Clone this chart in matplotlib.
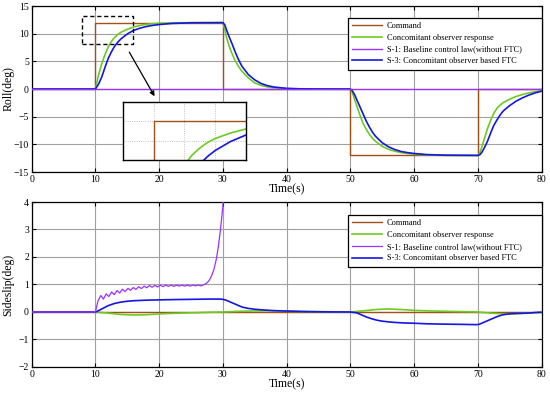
import matplotlib
matplotlib.use('Agg')
import matplotlib.pyplot as plt
from matplotlib.patches import Rectangle

plt.rcParams['font.family'] = ['Liberation Serif', 'DejaVu Serif']
plt.rcParams['axes.unicode_minus'] = True

# ── colours ────────────────────────────────────────────────────────────────
C_CMD = '#a0501a'
C_OBS = '#6ccb1e'
C_S1 = '#9933ff'
C_S3 = '#1515e6'

labels = ['Command', 'Concomitant observer response',
          'S-1: Baseline control law(without FTC)',
          'S-3: Concomitant observer based FTC']

# ── Roll data ──────────────────────────────────────────────────────────────
t_roll_cmd = [0, 10, 10, 30, 30, 50, 50, 70, 70, 80]
roll_cmd = [0, 0, 12, 12, 0, 0, -12, -12, 0, 0]

t_roll = [0, 10, 10.5, 11, 11.5, 12, 12.5, 13, 13.5, 14, 15, 16, 17, 18, 19, 20, 22, 25, 30,
          30.3, 30.6, 31, 31.5, 32, 32.5, 33, 34, 35, 36, 37, 38, 40, 42, 45, 50,
          50.3, 50.7, 51, 51.5, 52, 52.5, 53, 53.5, 54, 55, 56, 57, 58, 59, 60, 62, 65, 70,
          70.3, 70.6, 71, 71.5, 72, 72.5, 73, 73.5, 74, 75, 76, 77, 78, 79, 80]
roll_obs = [0, 0, 2.6, 4.6, 6.2, 7.6, 8.6, 9.3, 9.85, 10.25, 10.8, 11.2, 11.5, 11.68, 11.8, 11.88, 11.95, 11.99, 12,
            10.8, 9.2, 7.7, 6.2, 5.0, 4.0, 3.2, 2.0, 1.1, 0.65, 0.38, 0.22, 0.07, 0.02, 0, 0,
            -0.6, -2.0, -3.0, -4.7, -6.2, -7.3, -8.2, -8.95, -9.5, -10.35, -10.9, -11.25, -11.5, -11.65, -11.78, -11.92, -11.99, -12,
            -11.6, -10.6, -9.1, -7.2, -5.7, -4.4, -3.5, -2.9, -2.45, -1.85, -1.35, -1.0, -0.7, -0.5, -0.3]
roll_s3 = [0, 0, 0.9, 2.2, 3.9, 5.5, 6.7, 7.7, 8.45, 9.05, 9.95, 10.6, 11.0, 11.3, 11.5, 11.65, 11.85, 11.97, 12,
           11.6, 10.6, 9.4, 8.0, 6.5, 5.2, 4.1, 2.6, 1.65, 1.0, 0.6, 0.36, 0.12, 0.04, 0.01, 0,
           -0.3, -1.1, -1.9, -3.2, -4.5, -5.8, -6.9, -7.85, -8.6, -9.7, -10.45, -10.95, -11.3, -11.5, -11.65, -11.85, -11.96, -12,
           -11.9, -11.5, -10.7, -9.5, -8.0, -6.6, -5.6, -4.7, -3.95, -3.0, -2.2, -1.6, -1.1, -0.7, -0.4]
t_roll_s1 = [0, 80]
roll_s1 = [0, 0]

# ── Sideslip data ──────────────────────────────────────────────────────────
t_ss_cmd = [0, 80]
ss_cmd = [0, 0]

t_ss_obs = [0, 10, 12, 14, 16, 18, 20, 22, 25, 28, 30, 32, 35, 38, 42, 46, 50, 52, 54, 56, 58, 60,
            63, 66, 70, 72, 74, 75.5, 77, 78.5, 80]
ss_obs = [0, 0, -0.04, -0.09, -0.11, -0.1, -0.07, -0.05, -0.03, -0.01, 0, 0.02, 0.04, 0.04, 0.02, 0.01,
          0, 0.04, 0.09, 0.11, 0.09, 0.06, 0.035, 0.02, 0, -0.04, -0.07, -0.07, -0.05, -0.03, -0.01]

t_ss_s1 = [0, 10.0, 10.4, 10.85, 11.25, 11.7, 12.1, 12.55, 12.95, 13.4, 13.8, 14.25, 14.65, 15.1, 15.5,
           15.95, 16.35, 16.8, 17.2, 17.65, 18.05, 18.5, 18.9, 19.35, 19.75, 20.2, 20.6, 21.05, 21.45,
           21.9, 22.3, 22.75, 23.15, 23.6, 24.0, 24.45, 24.85, 25.3, 25.7, 26.15, 26.55, 27.0, 27.4,
           27.8, 28.2, 28.6, 29.0, 29.3, 29.6, 29.85, 30.1, 30.3]
ss_s1 = [0, 0, 0.4, 0.6, 0.47, 0.66, 0.56, 0.73, 0.63, 0.78, 0.69, 0.83, 0.74, 0.86, 0.79, 0.89, 0.82,
         0.92, 0.85, 0.94, 0.88, 0.96, 0.9, 0.97, 0.91, 0.98, 0.92, 0.98, 0.93, 0.98, 0.93, 0.98, 0.94,
         0.98, 0.94, 0.98, 0.94, 0.98, 0.95, 0.98, 0.95, 0.99, 1.04, 1.13, 1.3, 1.55, 1.95, 2.4, 2.95,
         3.5, 4.1, 4.6]

t_ss_s3 = [0, 10, 10.5, 11, 11.5, 12, 12.5, 13, 14, 15, 16, 18, 20, 22, 25, 28, 29.5, 30, 30.5, 31,
           31.5, 32, 32.5, 33, 34, 35, 36, 38, 40, 43, 46, 50, 51, 51.8, 52.5, 53.4, 54.2, 54.9, 56, 57,
           58.5, 60.1, 62, 64.3, 67.4, 69.8, 70.2, 70.6, 71.4, 72.2, 73, 73.8, 74.5, 75.3, 76.5, 77.9, 79, 80]
ss_s3 = [0, 0, 0.05, 0.11, 0.17, 0.23, 0.27, 0.31, 0.36, 0.39, 0.41, 0.43, 0.44, 0.45, 0.46, 0.47, 0.47,
         0.46, 0.43, 0.38, 0.33, 0.28, 0.23, 0.18, 0.13, 0.1, 0.08, 0.05, 0.035, 0.015, 0.005, 0,
         -0.03, -0.11, -0.18, -0.25, -0.3, -0.33, -0.36, -0.38, -0.4, -0.41, -0.43, -0.44, -0.45, -0.46,
         -0.45, -0.41, -0.33, -0.25, -0.17, -0.11, -0.08, -0.06, -0.05, -0.04, -0.02, -0.01]

x_ticks = list(range(0, 81, 10))
roll_ticks = [-15, -10, -5, 0, 5, 10, 15]
ss_ticks = [-2, -1, 0, 1, 2, 3, 4]

# zoom window
zoom_x = (8, 16)
zoom_y = (8.1, 13.9)


def style_axes(ax, yticks, ylabel):
    ax.set_xlim(0, 80)
    ax.set_ylim(yticks[0], yticks[-1])
    ax.set_xticks(x_ticks)
    ax.set_yticks(yticks)
    ax.grid(True, color='#a0a0a0', lw=0.8, ls='-')
    ax.set_axisbelow(True)
    ax.tick_params(direction='in', length=3, width=0.8, labelsize=7, pad=2,
                   top=True, right=True)
    for s in ax.spines.values():
        s.set_linewidth(0.9)
        s.set_color('black')
    ax.set_xlabel('Time(s)', fontsize=8.5, labelpad=0)
    ax.set_ylabel(ylabel, fontsize=8.5)
    ax.yaxis.set_label_coords(-0.034, 0.5)


def add_legend(ax, lines, ytop):
    leg = ax.legend(lines, labels, loc='upper right',
                    bbox_to_anchor=(0.62, 0.0, 0.38, ytop), mode='expand',
                    borderaxespad=0, fontsize=6, handlelength=3.6, handletextpad=0.6,
                    labelspacing=0.45, borderpad=0.5, fancybox=False, framealpha=1,
                    edgecolor='black')
    leg.get_frame().set_linewidth(0.9)


fig = plt.figure(figsize=(5.5, 3.93), dpi=100)
ax1 = fig.add_axes([0.0576, 0.5623, 0.927, 0.4224])
ax2 = fig.add_axes([0.0576, 0.0662, 0.927, 0.4198])

# ── Roll ───────────────────────────────────────────────────────────────────
l1, = ax1.plot(t_roll_cmd, roll_cmd, color=C_CMD, lw=1.0, zorder=3)
l2, = ax1.plot(t_roll, roll_obs, color=C_OBS, lw=1.2, zorder=4)
l3, = ax1.plot(t_roll_s1, roll_s1, color=C_S1, lw=1.0, zorder=6)
l4, = ax1.plot(t_roll, roll_s3, color=C_S3, lw=1.2, zorder=5)
style_axes(ax1, roll_ticks, 'Roll(deg)')
add_legend(ax1, [l1, l2, l3, l4], 0.928)

ax1.add_patch(Rectangle((7.9, 8.1), 8.0, 5.1, fill=False, ec='black', lw=1.0,
                        ls=(0, (3, 2)), zorder=7))
ax1.annotate('', xy=(19.5, -1.75), xytext=(15.1, 7.1),
             arrowprops=dict(arrowstyle='-|>', color='black', lw=0.9,
                             mutation_scale=7), zorder=7)

# inset
axi = fig.add_axes([0.2236, 0.5929, 0.2236, 0.1476])
axi.plot(t_roll_cmd, roll_cmd, color=C_CMD, lw=1.0)
axi.plot(t_roll, roll_obs, color=C_OBS, lw=1.2)
axi.plot(t_roll, roll_s3, color=C_S3, lw=1.2)
axi.set_xlim(*zoom_x)
axi.set_ylim(*zoom_y)
axi.set_xticks([10, 12, 14])
axi.set_yticks([10, 12])
axi.tick_params(length=0, labelbottom=False, labelleft=False)
axi.grid(True, color='#b0b0b0', lw=0.6, ls=':')
for s in axi.spines.values():
    s.set_linewidth(1.0)

# ── Sideslip ───────────────────────────────────────────────────────────────
m1, = ax2.plot(t_ss_cmd, ss_cmd, color=C_CMD, lw=1.0, zorder=3)
m2, = ax2.plot(t_ss_obs, ss_obs, color=C_OBS, lw=1.2, zorder=4)
m3, = ax2.plot(t_ss_s1, ss_s1, color=C_S1, lw=0.9, zorder=6)
m4, = ax2.plot(t_ss_s3, ss_s3, color=C_S3, lw=1.2, zorder=5)
style_axes(ax2, ss_ticks, 'Sideslip(deg)')
add_legend(ax2, [m1, m2, m3, m4], 0.921)

fig.savefig('out.png', dpi=100)
